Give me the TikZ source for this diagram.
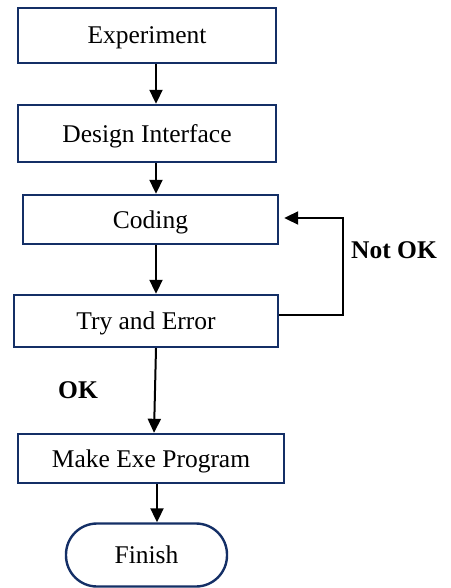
\documentclass[tikz,border=0pt]{standalone}
\usepackage{fontspec}
\setmainfont{Liberation Serif}
\usetikzlibrary{arrows.meta}
\definecolor{boxnavy}{HTML}{142F66}
\tikzset{
  stepbox/.style={draw=boxnavy, line width=2.4pt, fill=white, inner sep=0pt,
    text depth=0pt, font=\fontsize{25.5}{30}\selectfont},
  endbox/.style={stepbox, rounded corners=31pt},
  arr/.style={line width=2pt, -{Triangle[length=14pt,width=13pt]}},
  lbl/.style={font=\fontsize{25.5}{30}\selectfont\bfseries, inner sep=0pt}
}
\begin{document}
\begin{tikzpicture}[x=1pt, y=-1pt]
  \useasboundingbox (0,0) rectangle (450,588);

  % process steps
  \node[stepbox, minimum width=258pt, minimum height=55pt] (exp)    at (147,35.5)  {Experiment};
  \node[stepbox, minimum width=258pt, minimum height=57pt] (design) at (147,133.5) {Design Interface};
  \node[stepbox, minimum width=255pt, minimum height=49pt] (coding) at (150.5,219.5) {Coding};
  \node[stepbox, minimum width=264pt, minimum height=52pt] (try)    at (146,321)   {Try and Error};
  \node[stepbox, minimum width=266pt, minimum height=49pt] (make)   at (151,458.5) {Make Exe Program};
  \node[endbox,  minimum width=161pt, minimum height=63pt] (finish) at (146.5,555) {Finish};

  % helper coordinates for the connectors
  \coordinate (ax) at (156,0);
  \coordinate (bx) at (154,0);
  \coordinate (fx) at (157,0);
  \coordinate (nk1) at (343,315);
  \coordinate (nk2) at (343,218);

  % main flow
  \draw[arr] (exp.south -| ax) -- (design.north -| ax);
  \draw[arr] (design.south -| ax) -- (coding.north -| ax);
  \draw[arr] (coding.south -| ax) -- (try.north -| ax);
  \draw[arr] (try.south -| ax) -- (make.north -| bx);
  \draw[arr] (make.south -| fx) -- (finish.north -| fx);

  % feedback loop
  \draw[arr, line join=miter, shorten >=5pt] (try.east |- nk1) -- (nk1) -- (nk2) -- (coding.east |- nk2);

  % labels
  \node[lbl] (notok) at (394,250) {Not OK};
  \node[lbl] (ok)    at (78,390)  {OK};
\end{tikzpicture}
\end{document}
